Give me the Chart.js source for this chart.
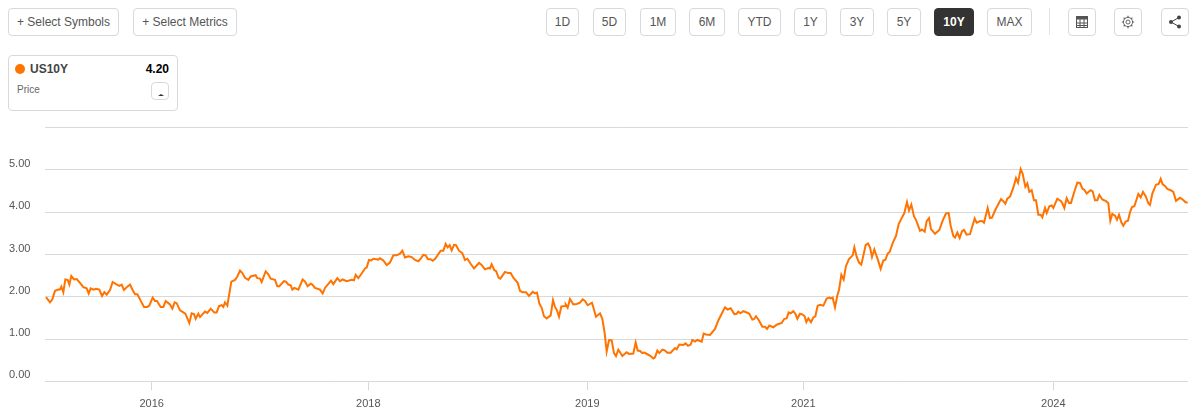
<!DOCTYPE html>
<html>
<head>
<meta charset="utf-8">
<title>US10Y</title>
<script src="https://cdn.jsdelivr.net/npm/chart.js@4/dist/chart.umd.min.js"></script>
<style>
html, body { margin: 0; padding: 0; background: #fff; width: 1201px; height: 419px; overflow: hidden; font-family: "Liberation Sans", Arial, sans-serif; }
.btn { position: absolute; top: 8px; height: 26px; line-height: 26px; box-sizing: content-box; border: 1px solid #d9d9d9; border-radius: 4px; text-align: center; color: #555; font-size: 12px; background: #fff; }
.btn.active { background: #333; border-color: #333; color: #fff; font-weight: bold; }
.btn svg { position: absolute; left: 6px; top: 6px; }
#divider { position: absolute; left: 1049px; top: 8px; width: 1px; height: 27px; background: #e3e3e3; }
#card { position: absolute; left: 8px; top: 55px; width: 168px; height: 54px; border: 1px solid #d9d9d9; border-radius: 4px; }
#dot { position: absolute; left: 6px; top: 8px; width: 10px; height: 10px; border-radius: 50%; background: #ff7300; }
#sym { position: absolute; left: 21px; top: 6px; font-size: 12px; font-weight: bold; color: #444; }
#val { position: absolute; right: 8px; top: 6px; font-size: 12px; font-weight: bold; color: #000; }
#lbl { position: absolute; left: 8px; top: 28px; font-size: 10px; color: #666; }
#mini { position: absolute; left: 142px; top: 26px; width: 16px; height: 16px; border: 1px solid #d9d9d9; border-radius: 4px; }
#mini i { position: absolute; left: 6px; top: 11px; width: 0; height: 0; border-left: 3px solid transparent; border-right: 3px solid transparent; border-bottom: 2px solid #333; }
#wrap { position: absolute; left: 0; top: 120px; width: 1201px; height: 299px; }
</style>
</head>
<body>
<div class="btn" style="left:8px;width:109px">+ Select Symbols</div>
<div class="btn" style="left:133px;width:102px">+ Select Metrics</div>
<div class="btn" style="left:546px;width:31px">1D</div>
<div class="btn" style="left:593px;width:31px">5D</div>
<div class="btn" style="left:640px;width:34px">1M</div>
<div class="btn" style="left:689px;width:34px">6M</div>
<div class="btn" style="left:738px;width:41px">YTD</div>
<div class="btn" style="left:794px;width:31px">1Y</div>
<div class="btn" style="left:840px;width:32px">3Y</div>
<div class="btn" style="left:887px;width:32px">5Y</div>
<div class="btn active" style="left:934px;width:38px">10Y</div>
<div class="btn" style="left:987px;width:43px">MAX</div>
<div id="divider"></div>
<div class="btn" style="left:1068px;width:26px">
  <svg width="14" height="14" viewBox="0 0 14 14"><rect x="1.5" y="1.5" width="11" height="11" fill="none" stroke="#555"/><rect x="1.5" y="1.5" width="11" height="3" fill="#555"/><path d="M1.5 8h11M1.5 10.5h11M5 4v8M9 4v8" stroke="#555" stroke-width="1"/></svg>
</div>
<div class="btn" style="left:1114px;width:26px">
  <svg width="14" height="14" viewBox="0 0 14 14"><circle cx="7" cy="7" r="2" fill="none" stroke="#666"/><circle cx="7" cy="7" r="4.6" fill="none" stroke="#666" stroke-width="1"/><path d="M7 .8v1.8M7 11.4v1.8M.8 7h1.8M11.4 7h1.8M2.6 2.6l1.3 1.3M10.1 10.1l1.3 1.3M2.6 11.4l1.3-1.3M10.1 3.9l1.3-1.3" stroke="#666" stroke-width="1.2"/></svg>
</div>
<div class="btn" style="left:1161px;width:26px">
  <svg width="14" height="14" viewBox="0 0 14 14"><path d="M11 2.5L3 7l8 4.5" fill="none" stroke="#444" stroke-width="1"/><circle cx="11" cy="2.5" r="2" fill="#444"/><circle cx="3" cy="7" r="2" fill="#444"/><circle cx="11" cy="11.5" r="2" fill="#444"/></svg>
</div>

<div id="card">
  <div id="dot"></div>
  <div id="sym">US10Y</div>
  <div id="val">4.20</div>
  <div id="lbl">Price</div>
  <div id="mini"><i></i></div>
</div>

<div id="wrap"><canvas id="yieldChart" width="1201" height="299"></canvas></div>

<script>
// days counted from the start of the window
var days = [
  3,15,22,30,40,45,49,55,61,68,73,79,87,95,105,115,125,131,137,145,153,163,171,178,185,195,203,213,223,230,
  237,247,255,263,270,277,285,297,307,313,323,330,336,347,355,362,370,375,382,389,395,405,415,421,433,440,447,452,460,465,
  480,487,497,508,515,522,530,535,540,547,559,570,577,585,592,600,610,617,632,637,645,650,662,670,677,690,697,703,717,723,
  730,737,742,748,760,773,780,788,797,802,810,825,833,840,858,865,877,885,893,905,920,927,932,940,950,960,965,972,979,985,
  1000,1005,1015,1025,1035,1045,1055,1065,1072,1080,1090,1100,1110,1120,1127,1135,1142,1149,1157,1163,1170,1187,1195,1202,1208,1214,1220,1227,1233,1242,
  1252,1260,1267,1278,1287,1302,1310,1320,1330,1335,1340,1348,1353,1361,1366,1380,1390,1397,1405,1418,1425,1432,1443,1452,1463,1470,1476,1483,1490,1497,
  1505,1517,1524,1530,1536,1542,1549,1560,1562,1568,1575,1585,1595,1605,1613,1620,1628,1641,1653,1665,1672,1679,1685,1692,1700,1707,1713,1720,1732,1745,
  1752,1765,1772,1778,1785,1792,1798,1810,1817,1825,1830,1837,1843,1852,1858,1867,1877,1890,1895,1903,1915,1922,1929,1937,1942,1950,1957,1970,1976,1983,
  1995,2010,2020,2030,2040,2048,2057,2068,2075,2080,2086,2095,2105,2113,2122,2127,2133,2142,2152,2160,2166,2173,2185,2195,2210,2218,2225,2231,2237,2245,
  2251,2257,2265,2273,2279,2284,2290,2298,2305,2311,2318,2325,2335,2345,2353,2357,2363,2370,2377,2382,2389,2396,2403,2412,2423,2428,2435,2442,2449,2462,
  2469,2475,2481,2488,2498,2507,2515,2521,2528,2534,2543,2553,2561,2570,2578,2586,2592,2599,2607,2613,2625,2631,2639,2645,2652,2658,2670,2683,2693,2703,
  2711,2717,2725,2730,2737,2744,2751,2757,2765,2775,2789,2795,2806,2811,2817,2828,2835,2841,2850,2868,2875,2881,2887,2895,2905,2913,2919,2927,2933,2941,
  2947,2953,2960,2967,2973,2980,2987,2992,3000,3005,3013,3020,3025,3037,3048,3052,3058,3065,3072,3078,3087,3097,3105,3112,3118,3125,3137,3143,3150,3157,
  3163,3172,3183,3190,3196,3202,3210,3216,3222,3229,3235,3242,3249,3255,3261,3268,3280,3287,3294,3302,3310,3315,3322,3333,3341,3347,3353,3360,3367,3377,
  3385,3393,3405,3413,3421,3428
];
var yields = [
  1.99,1.87,1.94,2.14,2.17,2.17,2.24,2.11,2.41,2.40,2.29,2.49,2.41,2.42,2.33,2.23,2.20,2.08,2.20,2.17,2.19,2.17,2.02,2.11,2.05,2.16,2.35,2.30,2.26,2.29,
  2.16,2.24,2.29,2.16,2.06,2.06,1.94,1.76,1.76,1.79,1.98,1.90,1.90,1.76,1.76,1.90,1.85,1.82,1.72,1.87,1.85,1.68,1.63,1.60,1.38,1.61,1.59,1.48,1.60,1.52,
  1.65,1.62,1.72,1.63,1.63,1.78,1.80,1.76,1.87,1.79,2.36,2.40,2.48,2.62,2.56,2.45,2.40,2.48,2.51,2.44,2.43,2.35,2.60,2.53,2.43,2.40,2.25,2.25,2.37,2.36,
  2.29,2.27,2.17,2.21,2.17,2.41,2.36,2.25,2.31,2.29,2.21,2.17,2.08,2.21,2.38,2.30,2.44,2.37,2.41,2.37,2.40,2.39,2.52,2.44,2.55,2.67,2.69,2.87,2.86,2.90,
  2.88,2.91,2.86,2.75,2.81,2.98,2.98,3.02,3.09,2.93,2.96,2.94,2.87,2.84,2.90,2.99,2.98,2.89,2.89,2.85,2.89,3.09,3.09,3.25,3.17,3.22,3.10,3.23,3.22,3.09,
  3.03,2.87,2.90,2.77,2.67,2.80,2.75,2.65,2.68,2.67,2.77,2.63,2.61,2.45,2.43,2.59,2.56,2.56,2.45,2.33,2.14,2.11,2.11,2.02,2.12,2.08,2.10,1.84,1.74,1.54,
  1.49,1.56,1.92,1.76,1.68,1.53,1.77,1.78,1.82,1.74,1.95,1.82,1.83,1.86,1.94,1.90,1.80,1.86,1.53,1.61,1.48,1.14,0.71,0.97,0.97,0.67,0.60,0.75,0.60,0.69,
  0.65,0.66,0.92,0.73,0.72,0.67,0.68,0.63,0.60,0.54,0.57,0.73,0.67,0.75,0.74,0.68,0.68,0.79,0.76,0.87,0.86,0.90,0.84,0.87,0.98,0.94,0.98,0.94,1.13,1.11,
  1.10,1.24,1.44,1.60,1.75,1.70,1.73,1.59,1.60,1.65,1.61,1.66,1.63,1.60,1.46,1.47,1.54,1.44,1.29,1.29,1.24,1.32,1.28,1.34,1.38,1.48,1.49,1.63,1.61,1.66,
  1.60,1.48,1.60,1.58,1.54,1.40,1.49,1.40,1.51,1.54,1.79,1.81,1.79,1.96,1.98,1.96,1.98,1.75,2.03,2.16,2.52,2.41,2.73,2.89,2.98,3.17,2.95,2.81,2.76,3.22,
  3.26,3.17,2.94,3.12,2.89,2.66,2.86,2.87,3.02,3.06,3.27,3.44,3.72,3.86,3.98,4.24,4.04,4.18,3.90,3.82,3.56,3.59,3.54,3.79,3.86,3.60,3.49,3.58,3.80,3.97,
  3.98,3.68,3.44,3.40,3.52,3.39,3.55,3.58,3.47,3.48,3.85,3.75,3.79,3.79,3.75,4.10,3.86,3.87,4.04,4.31,4.26,4.20,4.32,4.37,4.58,4.81,4.70,5.02,4.91,4.60,
  4.68,4.48,4.52,4.28,4.28,3.94,3.94,3.88,4.10,3.98,4.14,4.16,4.10,4.32,4.26,4.21,4.10,4.33,4.22,4.22,4.46,4.70,4.69,4.56,4.53,4.44,4.52,4.49,4.28,4.28,
  4.41,4.30,4.26,4.21,3.80,3.96,3.92,3.82,3.94,3.76,3.68,3.78,3.80,4.00,4.12,4.14,4.43,4.35,4.48,4.38,4.21,4.17,4.44,4.65,4.67,4.79,4.66,4.62,4.55,4.52,
  4.48,4.27,4.34,4.30,4.24,4.22
];
var tickDays = [320, 970, 1627, 2275, 3025];
var tickYears = ['2016', '2018', '2019', '2021', '2024'];
var yTop = 6.005;
var yTicks = [0, 1, 2, 3, 4, 5, yTop];

var points = days.map(function(d, i){
    return {x: d, y: yields[i]};
});

var canvas = document.getElementById('yieldChart').getContext('2d');
var chart = new Chart(canvas, {
    type: 'line',
    data: {
        datasets: [{
            label: 'US10Y',
            data: points,
            borderColor: '#ff7300',
            borderWidth: 2,
            pointRadius: 0,
            tension: 0,
            clip: false
        }]
    },
    options: {
        responsive: false,
        animation: false,
        parsing: false,
        normalized: true,
        layout: { padding: { left: 9, right: 13, top: 7.4, bottom: 0 } },
        plugins: { legend: { display: false }, tooltip: { enabled: false } },
        scales: {
            x: {
                type: 'linear',
                min: 0,
                max: 3429,
                afterBuildTicks: function(axis){
                    axis.ticks = tickDays.map(function(d){ return {value: d}; });
                },
                afterFit: function(axis){ axis.height = 37.6; },
                border: { display: false },
                grid: { drawOnChartArea: false, drawTicks: true, tickLength: 9, color: '#d9d9d9' },
                ticks: {
                    autoSkip: false,
                    maxRotation: 0,
                    padding: 7,
                    color: '#555',
                    font: { family: '"Liberation Sans", Arial, sans-serif', size: 11 },
                    callback: function(value){
                        return tickYears[tickDays.indexOf(value)];
                    }
                }
            },
            y: {
                min: 0,
                max: yTop,
                afterBuildTicks: function(axis){
                    axis.ticks = yTicks.map(function(v){ return {value: v}; });
                },
                afterFit: function(axis){ axis.width = 36; },
                border: { display: false },
                grid: { drawTicks: false, tickLength: 0, color: '#d9d9d9' },
                ticks: {
                    crossAlign: 'far',
                    labelOffset: -6,
                    padding: 0,
                    color: '#555',
                    font: { family: '"Liberation Sans", Arial, sans-serif', size: 11 },
                    callback: function(value){
                        return value === yTop ? '' : value.toFixed(2);
                    }
                }
            }
        }
    }
});
</script>
</body>
</html>
